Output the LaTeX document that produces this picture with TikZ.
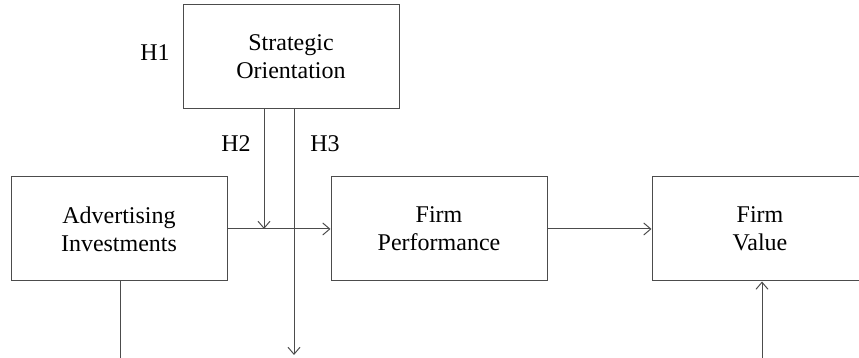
\documentclass[tikz,border=0pt]{standalone}
\usepackage{fontspec}
\setmainfont{Liberation Serif}
\usetikzlibrary{arrows.meta}

\begin{document}
\begin{tikzpicture}[x=0.5pt, y=-0.5pt, >={Straight Barb[length=3.5pt,width=6pt]},
    box/.style={draw=black!70, line width=0.5pt, minimum width=108pt, minimum height=52pt,
        align=center, inner sep=0pt, font=\fontsize{12}{14}\selectfont},
    hyp/.style={font=\fontsize{12}{14}\selectfont},
    link/.style={draw=black!70, line width=0.5pt}]
    \clip (0,0) rectangle (859,358);

    % boxes
    \node[box] (so) at (291,57) {Strategic\\Orientation};
    \node[box] (adv) at (119,229) {Advertising\\Investments};
    \node[box] (perf) at (439,229) {Firm\\Performance};
    \node[box] (val) at (760,229) {Firm\\Value};

    % hypothesis labels
    \node[hyp] (h1) at (155,53) {H1};
    \node[hyp] (h2) at (236,144) {H2};
    \node[hyp] (h3) at (325,144) {H3};

    % free ends of the connectors
    \coordinate (mod) at (264,229);
    \coordinate (down) at (294,355);
    \coordinate (advout) at (120,358);
    \coordinate (valin) at (762,358);

    % main path
    \draw[link, ->] (adv.east) -- (perf.west);
    \draw[link, ->] (perf.east) -- (val.west);

    % moderation by strategic orientation
    \draw[link, ->] (so.south -| mod) -- (mod);
    \draw[link, ->] (so.south -| down) -- (down);

    % lines leaving the bottom edge
    \draw[link] (adv.south -| advout) -- (advout);
    \draw[link, ->] (valin) -- (val.south -| valin);
\end{tikzpicture}
\end{document}
